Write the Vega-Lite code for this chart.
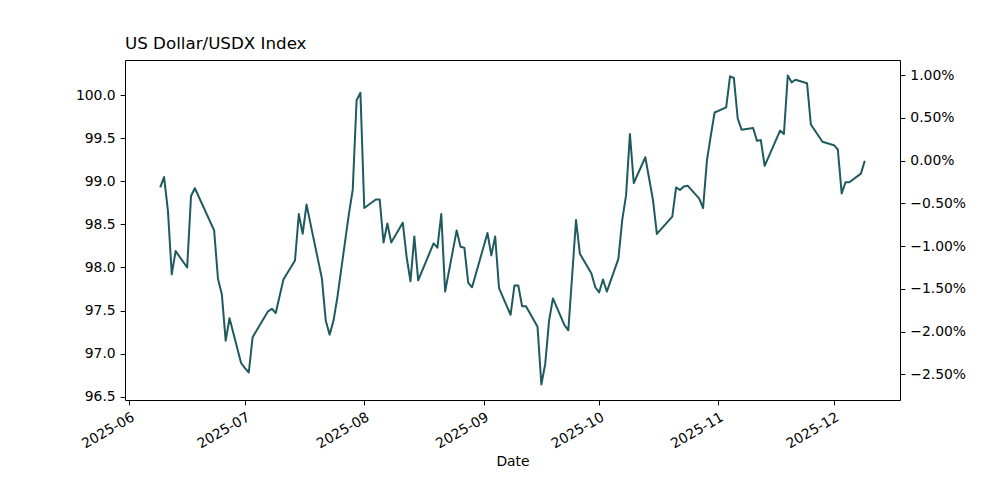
{
  "$schema": "https://vega.github.io/schema/vega-lite/v6.json",
  "width": 775,
  "height": 340,
  "autosize": {"type": "none"},
  "padding": {"left": 125, "top": 60, "right": 100, "bottom": 100},
  "background": "white",
  "config": {
    "font": "DejaVu Sans",
    "view": {"stroke": "black", "strokeWidth": 1},
    "axis": {
      "labelFont": "DejaVu Sans", "labelFontSize": 13.9, "labelColor": "black",
      "tickColor": "black", "tickSize": 4.9, "tickWidth": 1, "labelPadding": 4.9,
      "domain": false, "grid": false, "labelOverlap": false,
      "titleFont": "DejaVu Sans", "titleFontSize": 13.9, "titleFontWeight": "normal", "titleColor": "black"
    }
  },
  "title": {"text": "US Dollar/USDX Index", "anchor": "start", "frame": "group", "fontSize": 16.7, "fontWeight": "normal", "font": "DejaVu Sans", "color": "black", "offset": 7},
  "data": {"values": [
    {"date": "2025-06-09", "value": 98.93},
    {"date": "2025-06-10", "value": 99.05},
    {"date": "2025-06-11", "value": 98.66},
    {"date": "2025-06-12", "value": 97.92},
    {"date": "2025-06-13", "value": 98.19},
    {"date": "2025-06-16", "value": 98.00},
    {"date": "2025-06-17", "value": 98.83},
    {"date": "2025-06-18", "value": 98.92},
    {"date": "2025-06-23", "value": 98.43},
    {"date": "2025-06-24", "value": 97.87},
    {"date": "2025-06-25", "value": 97.69},
    {"date": "2025-06-26", "value": 97.15},
    {"date": "2025-06-27", "value": 97.41},
    {"date": "2025-06-30", "value": 96.89},
    {"date": "2025-07-01", "value": 96.83},
    {"date": "2025-07-02", "value": 96.78},
    {"date": "2025-07-03", "value": 97.19},
    {"date": "2025-07-07", "value": 97.49},
    {"date": "2025-07-08", "value": 97.52},
    {"date": "2025-07-09", "value": 97.47},
    {"date": "2025-07-11", "value": 97.86},
    {"date": "2025-07-14", "value": 98.08},
    {"date": "2025-07-15", "value": 98.62},
    {"date": "2025-07-16", "value": 98.39},
    {"date": "2025-07-17", "value": 98.73},
    {"date": "2025-07-21", "value": 97.87},
    {"date": "2025-07-22", "value": 97.38},
    {"date": "2025-07-23", "value": 97.22},
    {"date": "2025-07-24", "value": 97.38},
    {"date": "2025-07-25", "value": 97.65},
    {"date": "2025-07-28", "value": 98.62},
    {"date": "2025-07-29", "value": 98.90},
    {"date": "2025-07-30", "value": 99.94},
    {"date": "2025-07-31", "value": 100.03},
    {"date": "2025-08-01", "value": 98.69},
    {"date": "2025-08-04", "value": 98.79},
    {"date": "2025-08-05", "value": 98.79},
    {"date": "2025-08-06", "value": 98.29},
    {"date": "2025-08-07", "value": 98.51},
    {"date": "2025-08-08", "value": 98.29},
    {"date": "2025-08-11", "value": 98.52},
    {"date": "2025-08-12", "value": 98.12},
    {"date": "2025-08-13", "value": 97.84},
    {"date": "2025-08-14", "value": 98.36},
    {"date": "2025-08-15", "value": 97.85},
    {"date": "2025-08-19", "value": 98.28},
    {"date": "2025-08-20", "value": 98.23},
    {"date": "2025-08-21", "value": 98.62},
    {"date": "2025-08-22", "value": 97.72},
    {"date": "2025-08-25", "value": 98.43},
    {"date": "2025-08-26", "value": 98.24},
    {"date": "2025-08-27", "value": 98.23},
    {"date": "2025-08-28", "value": 97.82},
    {"date": "2025-08-29", "value": 97.77},
    {"date": "2025-09-02", "value": 98.40},
    {"date": "2025-09-03", "value": 98.14},
    {"date": "2025-09-04", "value": 98.36},
    {"date": "2025-09-05", "value": 97.76},
    {"date": "2025-09-08", "value": 97.45},
    {"date": "2025-09-09", "value": 97.79},
    {"date": "2025-09-10", "value": 97.79},
    {"date": "2025-09-11", "value": 97.55},
    {"date": "2025-09-12", "value": 97.55},
    {"date": "2025-09-15", "value": 97.31},
    {"date": "2025-09-16", "value": 96.64},
    {"date": "2025-09-17", "value": 96.88},
    {"date": "2025-09-18", "value": 97.38},
    {"date": "2025-09-19", "value": 97.64},
    {"date": "2025-09-22", "value": 97.33},
    {"date": "2025-09-23", "value": 97.27},
    {"date": "2025-09-25", "value": 98.55},
    {"date": "2025-09-26", "value": 98.16},
    {"date": "2025-09-29", "value": 97.93},
    {"date": "2025-09-30", "value": 97.77},
    {"date": "2025-10-01", "value": 97.71},
    {"date": "2025-10-02", "value": 97.86},
    {"date": "2025-10-03", "value": 97.72},
    {"date": "2025-10-06", "value": 98.10},
    {"date": "2025-10-07", "value": 98.55},
    {"date": "2025-10-08", "value": 98.84},
    {"date": "2025-10-09", "value": 99.55},
    {"date": "2025-10-10", "value": 98.98},
    {"date": "2025-10-13", "value": 99.28},
    {"date": "2025-10-14", "value": 99.03},
    {"date": "2025-10-15", "value": 98.78},
    {"date": "2025-10-16", "value": 98.39},
    {"date": "2025-10-20", "value": 98.59},
    {"date": "2025-10-21", "value": 98.93},
    {"date": "2025-10-22", "value": 98.90},
    {"date": "2025-10-23", "value": 98.94},
    {"date": "2025-10-24", "value": 98.95},
    {"date": "2025-10-27", "value": 98.80},
    {"date": "2025-10-28", "value": 98.69},
    {"date": "2025-10-29", "value": 99.24},
    {"date": "2025-10-30", "value": 99.53},
    {"date": "2025-10-31", "value": 99.80},
    {"date": "2025-11-03", "value": 99.86},
    {"date": "2025-11-04", "value": 100.22},
    {"date": "2025-11-05", "value": 100.20},
    {"date": "2025-11-06", "value": 99.73},
    {"date": "2025-11-07", "value": 99.60},
    {"date": "2025-11-10", "value": 99.62},
    {"date": "2025-11-11", "value": 99.47},
    {"date": "2025-11-12", "value": 99.48},
    {"date": "2025-11-13", "value": 99.18},
    {"date": "2025-11-17", "value": 99.59},
    {"date": "2025-11-18", "value": 99.55},
    {"date": "2025-11-19", "value": 100.23},
    {"date": "2025-11-20", "value": 100.15},
    {"date": "2025-11-21", "value": 100.18},
    {"date": "2025-11-24", "value": 100.14},
    {"date": "2025-11-25", "value": 99.66},
    {"date": "2025-11-28", "value": 99.46},
    {"date": "2025-12-01", "value": 99.42},
    {"date": "2025-12-02", "value": 99.37},
    {"date": "2025-12-03", "value": 98.86},
    {"date": "2025-12-04", "value": 98.99},
    {"date": "2025-12-05", "value": 98.99},
    {"date": "2025-12-08", "value": 99.09},
    {"date": "2025-12-09", "value": 99.24}
  ]},
  "encoding": {
    "x": {
      "field": "date", "type": "temporal",
      "scale": {"type": "utc", "domain": [
        {"year": 2025, "month": 5, "date": 30, "hours": 20, "minutes": 24, "utc": true},
        {"year": 2025, "month": 12, "date": 18, "hours": 3, "minutes": 36, "utc": true}
      ]},
      "axis": {
        "title": "Date", "format": "%Y-%m", "labelAngle": -30, "labelAlign": "right", "labelBaseline": "top",
        "titlePadding": 4,
        "values": [
          {"year": 2025, "month": 6, "date": 1, "utc": true},
          {"year": 2025, "month": 7, "date": 1, "utc": true},
          {"year": 2025, "month": 8, "date": 1, "utc": true},
          {"year": 2025, "month": 9, "date": 1, "utc": true},
          {"year": 2025, "month": 10, "date": 1, "utc": true},
          {"year": 2025, "month": 11, "date": 1, "utc": true},
          {"year": 2025, "month": 12, "date": 1, "utc": true}
        ]
      }
    }
  },
  "layer": [
    {
      "mark": {"type": "line", "color": "#1e5a60", "strokeWidth": 2, "strokeJoin": "round"},
      "encoding": {
        "y": {
          "field": "value", "type": "quantitative",
          "scale": {"domain": [96.4605, 100.4095], "nice": false, "zero": false},
          "axis": {"orient": "left", "title": null, "format": ".1f", "values": [96.5, 97.0, 97.5, 98.0, 98.5, 99.0, 99.5, 100.0]}
        }
      }
    },
    {
      "mark": {"type": "line", "opacity": 0},
      "encoding": {
        "y": {
          "field": "value", "type": "quantitative",
          "scale": {"domain": [96.4605, 100.4095], "nice": false, "zero": false},
          "axis": {
            "orient": "right", "title": null,
            "values": [96.759, 97.2552, 97.7514, 98.2476, 98.7438, 99.24, 99.7362, 100.2324],
            "labelExpr": "format(datum.value / 99.24 - 1, '.2%')"
          }
        }
      }
    }
  ],
  "resolve": {"scale": {"y": "independent"}}
}
